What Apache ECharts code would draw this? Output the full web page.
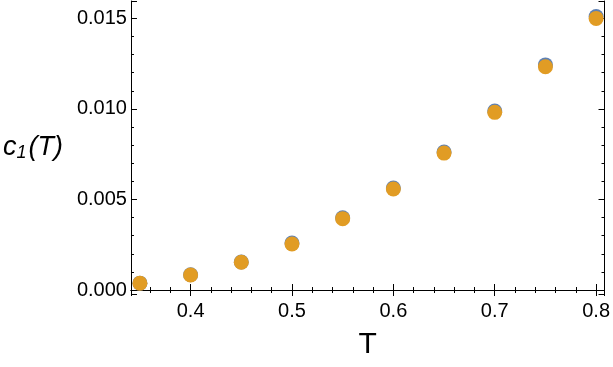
<!DOCTYPE html>
<html>
<head>
<meta charset="utf-8">
<script src="https://cdn.jsdelivr.net/npm/echarts@6/dist/echarts.min.js"></script>
<style>
  html, body { margin: 0; padding: 0; background: #fff; }
  #chart { width: 613px; height: 367px; }
</style>
</head>
<body>
<div id="chart"></div>
<script>
// temperatures and the two c1(T) estimates
const temps = [0.35, 0.40, 0.45, 0.50, 0.55, 0.60, 0.65, 0.70, 0.75, 0.80];
const c1Blue = [0.00038, 0.00084, 0.00155, 0.00259, 0.00399, 0.00563, 0.00762, 0.00988, 0.01243, 0.01510];
const c1Orange = [0.00037, 0.00083, 0.00153, 0.00254, 0.00394, 0.00558, 0.00756, 0.00981, 0.01233, 0.01500];

const xRange = [0.3412, 0.8083];
const yRange = [-0.00022, 0.01596];
const xMajor = 0.1, xMinor = 0.02;
const yMajor = 0.005, yMinor = 0.001;

const FONT = '"Liberation Sans", Arial, sans-serif';

const chart = echarts.init(document.getElementById('chart'));

function isMultiple(v, step) {
  const r = v / step;
  return Math.abs(r - Math.round(r)) < 1e-6;
}

// one frame side: major ticks (with labels on bottom/left) or minor ticks only
function xAx(pos, step, len, withLine, withLabels) {
  return {
    type: 'value', position: pos, min: xRange[0], max: xRange[1],
    minInterval: step, maxInterval: step,
    axisLine: { show: withLine, lineStyle: { color: '#000', width: 1 } },
    axisTick: { show: true, inside: true, length: len, lineStyle: { color: '#000', width: 1 } },
    splitLine: { show: false },
    axisLabel: {
      show: withLabels, interval: 0, margin: 7, color: '#000', fontSize: 20, fontFamily: FONT,
      formatter: v => isMultiple(v, xMajor) ? v.toFixed(1) : ''
    }
  };
}
function yAx(pos, step, len, withLine, withLabels) {
  return {
    type: 'value', position: pos, min: yRange[0], max: yRange[1],
    minInterval: step, maxInterval: step,
    axisLine: { show: withLine, lineStyle: { color: '#000', width: 1 } },
    axisTick: { show: true, inside: true, length: len, lineStyle: { color: '#000', width: 1 } },
    splitLine: { show: false },
    axisLabel: {
      show: withLabels, interval: 0, margin: 4, color: '#000', fontSize: 20, fontFamily: FONT,
      formatter: v => isMultiple(v, yMajor) ? v.toFixed(3) : ''
    }
  };
}

const xBottom = xAx('bottom', xMajor, 6, true, true);
xBottom.name = 'T';
xBottom.nameLocation = 'middle';
xBottom.nameGap = 36;
xBottom.nameTextStyle = { fontSize: 30, fontFamily: FONT, color: '#000' };

const yLeft = yAx('left', yMajor, 6, true, true);
yLeft.name = '{i|c}{s|1}{i|(T)}';
yLeft.nameLocation = 'middle';
yLeft.nameRotate = 0;
yLeft.nameGap = 68;
yLeft.nameTextStyle = {
  rich: {
    i: { fontSize: 27, fontStyle: 'italic', fontFamily: FONT, color: '#000' },
    s: { fontSize: 18, fontStyle: 'italic', fontFamily: FONT, color: '#000', padding: [11, 2, 0, 0] }
  }
};

const option = {
  animation: false,
  backgroundColor: '#fff',
  grid: { left: 130, right: 6, top: 1, bottom: 73 },
  xAxis: [
    xBottom,
    xAx('bottom', xMinor, 3, false, false),
    xAx('top', xMajor, 6, true, false),
    xAx('top', xMinor, 3, false, false)
  ],
  yAxis: [
    yLeft,
    yAx('left', yMinor, 3, false, false),
    yAx('right', yMajor, 6, true, false),
    yAx('right', yMinor, 3, false, false)
  ],
  series: [
    {
      type: 'scatter', symbolSize: 15,
      itemStyle: { color: '#5E81B5', opacity: 1 },
      data: temps.map((t, i) => [t, c1Blue[i]])
    },
    {
      type: 'scatter', symbolSize: 15,
      itemStyle: { color: '#E19C24', opacity: 1 },
      data: temps.map((t, i) => [t, c1Orange[i]])
    }
  ]
};

chart.setOption(option);
</script>
</body>
</html>
